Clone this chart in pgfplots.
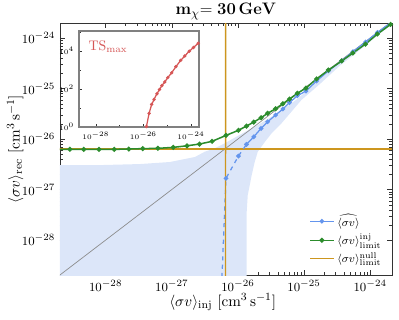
\documentclass[border=0pt]{standalone}
\usepackage{pgfplots}
\pgfplotsset{compat=1.18}
\usepackage{amsmath}
\definecolor{cblue}{RGB}{100,149,237}
\definecolor{cgreen}{RGB}{44,140,44}
\definecolor{cgold}{HTML}{CD961E}
\definecolor{cband}{RGB}{220,230,249}
\definecolor{cred}{RGB}{214,86,86}
\begin{document}
\begin{tikzpicture}
\begin{axis}[
  scale only axis, width=239.6pt, height=181.9pt,
  xmode=log, ymode=log,
  xmin=2.04e-29, xmax=2.14e-24, ymin=2.03e-29, ymax=1.98e-24,
  xtick={1e-28,1e-27,1e-26,1e-25,1e-24},
  ytick={1e-28,1e-27,1e-26,1e-25,1e-24},
  tick label style={font=\fontsize{9.5}{11}\selectfont},
  label style={font=\fontsize{10.8}{13}\selectfont},
  xlabel={$\langle\sigma v\rangle_{\mathrm{inj}}~[\mathrm{cm}^3\,\mathrm{s}^{-1}]$},
  ylabel={$\langle\sigma v\rangle_{\mathrm{rec}}~[\mathrm{cm}^3\,\mathrm{s}^{-1}]$},
  xlabel style={at={(axis description cs:0.49,-0.107)}, anchor=center},
  ylabel style={at={(axis description cs:-0.135,0.5)}, anchor=center},
  title={$\mathbf{m}_{\chi}\mathbf{=30\,GeV}$},
  title style={font=\fontsize{13}{15}\selectfont, yshift=-7pt},
  axis line style={black!80, line width=0.6pt},
  major tick length=3.5pt, minor tick length=2pt,
  tick style={black!80},
  legend style={draw=none, fill=none, font=\fontsize{8.5}{10}\selectfont,
    at={(0.99,0.02)}, anchor=south east, row sep=0pt},
  legend cell align=left,
]
\addplot[fill=cband, draw=none, forget plot] coordinates {
 (1.58e-29,3.05e-27) (8.13e-29,3.05e-27) (3.31e-28,3.20e-27) (9.33e-28,3.51e-27)
 (2.24e-27,4.41e-27) (3.16e-27,5.62e-27) (4.47e-27,6.55e-27) (6.31e-27,8.22e-27)
 (8.91e-27,1.06e-26) (1.26e-26,1.36e-26) (2.00e-26,1.89e-26) (3.24e-26,2.77e-26)
 (5.13e-26,4.06e-26) (8.13e-26,6.40e-26) (1.23e-25,1.02e-25) (2.04e-25,1.94e-25)
 (3.47e-25,3.39e-25) (6.92e-25,6.46e-25) (1.38e-24,1.35e-24) (2.51e-24,2.40e-24)
 (2.51e-24,2.19e-24) (1.38e-24,1.20e-24) (6.92e-25,5.75e-25) (3.47e-25,2.82e-25)
 (1.74e-25,1.23e-25) (9.12e-26,5.92e-26) (6.46e-26,3.48e-26) (4.57e-26,2.05e-26)
 (3.24e-26,1.30e-26) (2.57e-26,8.85e-27) (2.00e-26,5.60e-27) (1.80e-26,3.55e-27)
 (1.62e-26,1.94e-27) (1.41e-26,7.78e-28) (1.35e-26,3.13e-28) (1.35e-26,1e-30)
 (1.58e-29,1e-30)
};
\addplot[black!45, line width=0.5pt, forget plot] coordinates {(1e-30,1e-30) (1e-23,1e-23)};
\addplot[cgold, line width=1pt, forget plot] coordinates {(1e-30,6.3e-27) (1e-23,6.3e-27)};
\addplot[cblue, line width=0.9pt, dashed, mark=*, mark size=1.2pt,
  mark options={solid, fill=cblue}, forget plot] coordinates {
 (4.07e-27,3.16e-34) (6.61e-27,1.67e-27) (1.02e-26,4.60e-27) (1.35e-26,7.85e-27)
};
\addplot[cblue, line width=0.9pt, mark=*, mark size=1.2pt, mark options={fill=cblue}] coordinates {
 (1.35e-26,7.85e-27) (1.74e-26,1.11e-26) (2.24e-26,1.62e-26) (2.82e-26,2.20e-26)
 (3.72e-26,2.99e-26) (4.79e-26,3.93e-26) (6.03e-26,5.25e-26) (7.94e-26,7.19e-26)
 (1.07e-25,8.91e-26) (1.55e-25,1.41e-25) (2.34e-25,2.24e-25) (3.72e-25,3.55e-25)
 (5.50e-25,5.37e-25) (8.51e-25,8.32e-25) (1.29e-24,1.29e-24) (2.04e-24,2.00e-24)
};
\addlegendentry{$\widehat{\langle\sigma v\rangle}$}
\addplot[cgreen, line width=1.1pt, mark=*, mark size=1.2pt, mark options={fill=cgreen}] coordinates {
 (1.78e-29,6.25e-27) (2.88e-29,6.25e-27) (4.68e-29,6.25e-27) (7.94e-29,6.25e-27)
 (1.35e-28,6.25e-27) (2.24e-28,6.34e-27) (3.63e-28,6.46e-27) (6.17e-28,6.55e-27)
 (1.05e-27,6.84e-27) (1.70e-27,7.36e-27) (2.63e-27,7.96e-27) (4.07e-27,9.02e-27)
 (6.61e-27,1.18e-26) (1.02e-26,1.49e-26) (1.35e-26,1.81e-26) (1.74e-26,2.17e-26)
 (2.24e-26,2.64e-26) (2.82e-26,3.23e-26) (3.72e-26,3.98e-26) (4.79e-26,5.01e-26)
 (6.03e-26,6.19e-26) (7.94e-26,8.04e-26) (1.07e-25,1.02e-25) (1.55e-25,1.55e-25)
 (2.34e-25,2.32e-25) (3.72e-25,3.51e-25) (5.50e-25,5.05e-25) (8.51e-25,7.60e-25)
 (1.29e-24,1.20e-24) (2.04e-24,1.86e-24)
};
\addlegendentry{$\langle\sigma v\rangle^{\mathrm{inj}}_{\mathrm{limit}}$}
\addplot[cgold, line width=1pt] coordinates {(6.5e-27,1e-30) (6.52e-27,1e-23)};
\addlegendentry{$\langle\sigma v\rangle^{\mathrm{null}}_{\mathrm{limit}}$}
\end{axis}
\begin{axis}[
  at={(13.7pt,106.8pt)}, anchor=south west,
  scale only axis, width=86.6pt, height=69.3pt,
  xmode=log, ymode=log,
  xmin=1.95e-29, xmax=2.19e-24, ymin=1, ymax=1.1e5,
  xtick={1e-28,1e-26,1e-24}, ytick={1,100,10000},
  minor xtick={1e-29,1e-27,1e-25}, minor ytick={10,1000,100000},
  tick label style={font=\fontsize{5.5}{6}\selectfont},
  axis background/.style={fill=white},
  axis line style={gray, line width=0.9pt},
  major tick length=2pt, minor tick length=1.2pt,
  tick style={black!80},
  xtick pos=bottom, ytick pos=left,
]
\addplot[cred, line width=0.9pt, mark=*, mark size=0.7pt, mark options={fill=cred}] coordinates {
 (1.02e-26,0.25) (1.35e-26,1.07) (1.74e-26,5.25) (2.24e-26,15.5) (2.82e-26,28.2)
 (3.72e-26,56.2) (4.79e-26,93.3) (6.03e-26,151) (7.94e-26,234) (1.07e-25,398)
 (1.55e-25,708) (2.34e-25,1479) (3.72e-25,3162) (5.50e-25,5370) (8.51e-25,9550)
 (1.29e-24,15136) (2.04e-24,25119)
};
\node[anchor=west, text=cred, font=\fontsize{10}{12}\selectfont] at (rel axis cs:0.04,0.84) {$\mathrm{TS}_{\mathrm{max}}$};
\end{axis}
\pgfresetboundingbox
\path (-43.3pt,-31.8pt) rectangle (244.65pt,198.5pt);
\end{tikzpicture}
\end{document}
